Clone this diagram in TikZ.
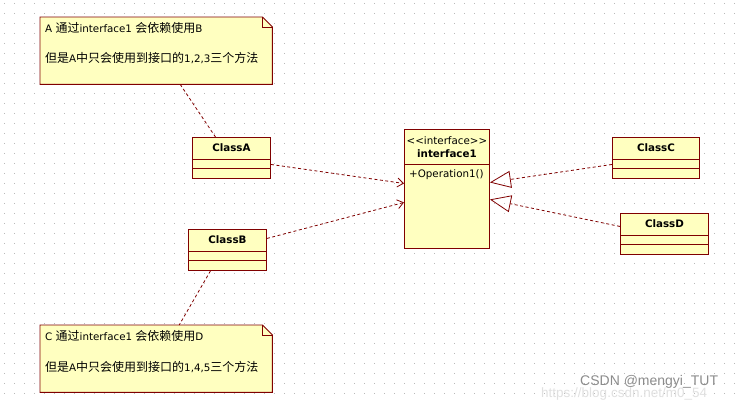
\documentclass[tikz,border=0pt]{standalone}
\usepackage{fontspec}
\setmainfont{DejaVu Sans}
\newfontfamily\cjk{Noto Sans CJK SC}
\newfontfamily\wmfont{Liberation Sans}
\usetikzlibrary{arrows.meta}
\definecolor{umlred}{RGB}{128,0,0}
\definecolor{umlfill}{RGB}{255,255,192}
\definecolor{griddot}{RGB}{185,185,185}
\newcommand\zh[1]{{\cjk\fontsize{12}{14}\selectfont #1}}
% class box: name, x, y, width, label
\newcommand\umlclass[5]{%
  \node[classbox, minimum width=#4pt] (#1) at (#2,#3) {};
  \draw[divider] ([yshift=-22pt]#1.north west) -- ([yshift=-22pt]#1.north east);
  \draw[divider] ([yshift=-31pt]#1.north west) -- ([yshift=-31pt]#1.north east);
  \node[font=\fontsize{10.3}{12}\selectfont\bfseries] (#1name) at ([yshift=-11pt]#1.north) {#5};
}
\newcommand\umlnote[3]{%
  \node[minimum width=232pt, minimum height=67pt, inner sep=0pt, anchor=north west] (#1) at (#2,#3) {};
  \draw[notebox] (#1.north west) -- ([xshift=-10pt]#1.north east) -- ([yshift=-10pt]#1.north east)
     -- (#1.south east) -- (#1.south west) -- cycle;
  \draw[fold] ([xshift=-10pt]#1.north east) -- ([xshift=-10pt,yshift=-10pt]#1.north east) -- ([yshift=-10pt]#1.north east);
}
\begin{document}
\begin{tikzpicture}[x=1pt,y=-1pt, font=\fontsize{10.3}{12}\selectfont,
  classbox/.style={draw=umlred, fill=umlfill, line width=0.9pt, inner sep=0pt, minimum height=41pt, anchor=north west},
  divider/.style={draw=umlred, line width=0.9pt},
  notebox/.style={draw=umlred, fill=umlfill, line width=0.9pt},
  fold/.style={draw=umlred, line width=0.6pt},
  dep/.style={draw=umlred, line width=0.8pt, dash pattern=on 3pt off 2.5pt},
  deptip/.style={-{Straight Barb[length=6pt,width=9pt,line width=0.8pt]}},
  realtip/.style={-{Triangle[open, length=21pt, width=17pt, line width=0.8pt]}},
]
\useasboundingbox (0,0) rectangle (738,400);
\fill[white] (0,0) rectangle (738,400);
\foreach \i in {0,...,73} {
  \foreach \j in {0,...,39} {
    \fill[griddot] (\i*10+4,\j*10+4) rectangle ++(1pt,1pt);
  }
}

% notes
\umlnote{NA}{40}{17}
\node[anchor=base west, inner sep=0pt] (NA1) at (45,32.5) {A \zh{通过}interface1 \zh{会依赖使用}B};
\node[anchor=base west, inner sep=0pt] (NA2) at (45,62.5) {\zh{但是}A\zh{中只会使用到接口的}1,2,3\zh{三个方法}};

\umlnote{NC}{40}{325}
\node[anchor=base west, inner sep=0pt] (NC1) at (45,340.5) {C \zh{通过}interface1 \zh{会依赖使用}D};
\node[anchor=base west, inner sep=0pt] (NC2) at (45,371.5) {\zh{但是}A\zh{中只会使用到接口的}1,4,5\zh{三个方法}};

% classes
\umlclass{A}{192}{137}{78}{ClassA}
\umlclass{B}{188}{229}{78}{ClassB}
\umlclass{C}{612}{137}{87}{ClassC}
\umlclass{D}{620}{213}{88}{ClassD}

% interface
\node[classbox, minimum width=85pt, minimum height=119pt] (I) at (404,129) {};
\draw[divider] ([yshift=-35pt]I.north west) -- ([yshift=-35pt]I.north east);
\node (Ist) at ([yshift=-12pt]I.north) {<{}<interface>{}>};
\node[font=\fontsize{10.3}{12}\selectfont\bfseries] (Iname) at ([yshift=-25pt]I.north) {interface1};
\node[anchor=west, inner sep=0pt] (Iop) at ([xshift=5pt,yshift=-46pt]I.north west) {+Operation1()};

% note connectors
\draw[dep] ([xshift=24pt]NA.south) -- ([xshift=-16pt]A.north);
\draw[dep] ([xshift=-17pt]B.south) -- ([xshift=23pt]NC.north);

% dependencies
\draw[dep, deptip] ([yshift=-6.5pt]A.east) -- ([yshift=5.5pt]I.west);
\draw[dep, deptip] ([yshift=11.5pt]B.east) -- ([yshift=-13.5pt]I.west);

% realizations
\draw[dep, realtip] ([yshift=-6.5pt]C.west) -- ([yshift=6.5pt]I.east);
\draw[dep, realtip] ([yshift=7.5pt]D.west) -- ([yshift=-10.5pt]I.east);

% watermark
\node[anchor=base west, inner sep=0pt, text=black!12, font=\wmfont\fontsize{13.5}{15}\selectfont] (wm2) at (541,397) {https://blog.csdn.net/m0\_54};
\node[anchor=base west, inner sep=0pt, text=black!45, font=\wmfont\fontsize{14}{16}\selectfont] (wm1) at (580,385) {CSDN @mengyi\_TUT};
\end{tikzpicture}
\end{document}
